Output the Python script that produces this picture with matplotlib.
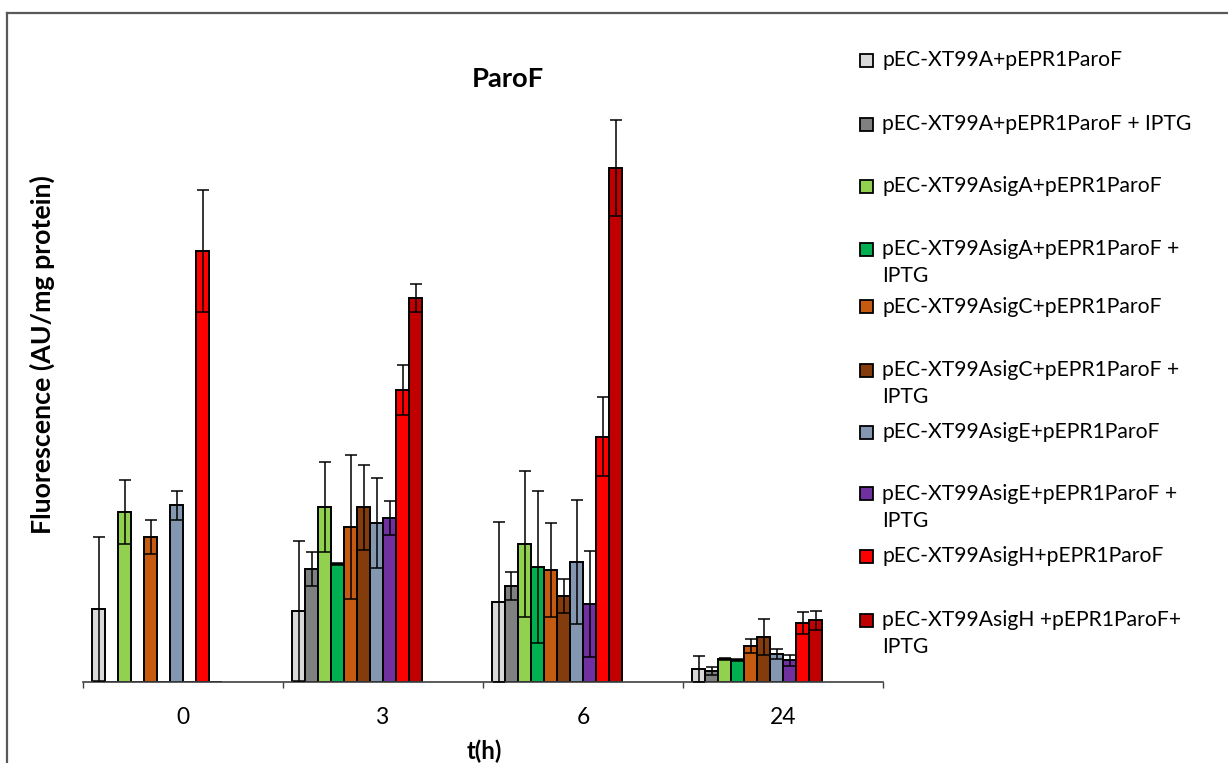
import numpy as np
import matplotlib
matplotlib.use("Agg")
import matplotlib.pyplot as plt
from matplotlib.patches import Rectangle
from matplotlib.lines import Line2D

plt.rcParams['font.family'] = ['Lato', 'DejaVu Sans']

# ---------------- data ----------------
times = ["0", "3", "6", "24"]
labels = [
    "pEC-XT99A+pEPR1ParoF",
    "pEC-XT99A+pEPR1ParoF + IPTG",
    "pEC-XT99AsigA+pEPR1ParoF",
    "pEC-XT99AsigA+pEPR1ParoF +\nIPTG",
    "pEC-XT99AsigC+pEPR1ParoF",
    "pEC-XT99AsigC+pEPR1ParoF +\nIPTG",
    "pEC-XT99AsigE+pEPR1ParoF",
    "pEC-XT99AsigE+pEPR1ParoF +\nIPTG",
    "pEC-XT99AsigH+pEPR1ParoF",
    "pEC-XT99AsigH +pEPR1ParoF+\nIPTG",
]
colors = ["#D9D9D9", "#808080", "#92D050", "#00B050", "#C55A11",
          "#843C0C", "#8497B0", "#7030A0", "#FF0000", "#C00000"]

a_ctrl      = [0.73, 0.71, 0.80, 0.13]
a_ctrl_err  = [0.72, 0.70, 0.80, 0.13]
a_ipt       = [0.00, 1.13, 0.96, 0.11]
a_ipt_err   = [0.00, 0.17, 0.14, 0.036]
sigA        = [1.70, 1.75, 1.38, 0.23]
sigA_err    = [0.32, 0.45, 0.73, 0.01]
sigA_ipt    = [0.00, 1.18, 1.15, 0.22]
sigA_ipt_err= [0.00, 0.01, 0.76, 0.01]
sigC        = [1.45, 1.55, 1.12, 0.36]
sigC_err    = [0.17, 0.72, 0.47, 0.07]
sigC_ipt    = [0.00, 1.75, 0.86, 0.45]
sigC_ipt_err= [0.00, 0.425, 0.17, 0.18]
sigE        = [1.77, 1.59, 1.20, 0.28]
sigE_err    = [0.145, 0.445, 0.62, 0.047]
sigE_ipt    = [0.00, 1.64, 0.78, 0.22]
sigE_ipt_err= [0.00, 0.17, 0.53, 0.055]
sigH        = [4.31, 2.92, 2.45, 0.59]
sigH_err    = [0.61, 0.255, 0.395, 0.11]
sigH_ipt    = [0.00, 3.84, 5.14, 0.62]
sigH_ipt_err= [0.00, 0.14, 0.48, 0.095]

values = [a_ctrl, a_ipt, sigA, sigA_ipt, sigC, sigC_ipt, sigE, sigE_ipt, sigH, sigH_ipt]
errors = [a_ctrl_err, a_ipt_err, sigA_err, sigA_ipt_err, sigC_err, sigC_ipt_err,
          sigE_err, sigE_ipt_err, sigH_err, sigH_ipt_err]

# ---------------- figure ----------------
W, H = 1228, 763
fig = plt.figure(figsize=(W / 100, H / 100), dpi=100)
ax_left, ax_right, ax_bottom, ax_top = 83, 883, 682, 110
ax = fig.add_axes([ax_left / W, 1 - ax_bottom / H, (ax_right - ax_left) / W,
                   (ax_bottom - ax_top) / H])

n_slots = 14
bw = (1 - 2 * 0.045) / n_slots
x = np.arange(len(times))
for j, (vals, errs, c) in enumerate(zip(values, errors, colors)):
    xs = x - 0.5 + 0.045 + bw * (j + 0.5)
    v = np.array(vals)
    e = np.array(errs)
    ax.bar(xs, v, width=bw, color=c, edgecolor="black", linewidth=1.4, zorder=2)
    m = v > 0
    ax.errorbar(xs[m], v[m], yerr=e[m], fmt="none", ecolor="black",
                elinewidth=1.1, capsize=4.3, capthick=1.1, zorder=3)

ax.set_xlim(-0.5, len(times) - 0.5)
ax.set_ylim(0, (ax_bottom - ax_top) / 100)
for s in ["left", "right", "top"]:
    ax.spines[s].set_visible(False)
ax.spines["bottom"].set_color("#404040")
ax.spines["bottom"].set_linewidth(1.2)
ax.set_yticks([])
ax.set_xticks(np.arange(len(times) + 1) - 0.5)
ax.set_xticklabels([])
ax.tick_params(axis="x", which="major", length=4.3, width=1.0, color="#404040", direction="out")
ax.set_xticks(x, minor=True)
ax.set_xticklabels(times, minor=True)
ax.tick_params(axis="x", which="minor", length=0, pad=18)

renderer = fig.canvas.get_renderer()

def fit(t, target, vertical=False):
    bb = t.get_window_extent(renderer)
    w = bb.height if vertical else bb.width
    t.set_fontsize(t.get_fontsize() * target / w)
    return t.get_fontsize()

# legend (manual, Excel-like spacing)
leg_y = [60, 124, 186, 249, 307, 370, 432, 494, 556, 620]
probe = fig.text(0, 0, labels[1], fontsize=14)
leg_fs = fit(probe, 311)
probe.remove()
line_gap = 27
for lab, c, y in zip(labels, colors, leg_y):
    fig.add_artist(Rectangle((860 / W, 1 - (y + 6.5) / H), 13 / W, 13 / H,
                             transform=fig.transFigure, facecolor=c,
                             edgecolor="black", linewidth=1.3))
    for k, line in enumerate(lab.split("\n")):
        fig.text(882 / W, 1 - (y + k * line_gap) / H, line, fontsize=leg_fs,
                 va="center", ha="left", color="black")

for tl in ax.get_xticklabels(minor=True):
    tl.set_fontsize(leg_fs * 1.08)

title = fig.text(508 / W, 1 - 79 / H, "ParoF", fontsize=14, fontweight="bold",
                 ha="center", va="center")
fit(title, 73)
xl = fig.text(484 / W, 1 - 751 / H, "t(h)", fontsize=14, fontweight="bold",
              ha="center", va="center")
fit(xl, 36)
yl = fig.text(42 / W, 1 - 355 / H, "Fluorescence (AU/mg protein)", fontsize=14,
              fontweight="bold", rotation=90, ha="center", va="center")
fit(yl, 362, vertical=True)

# chart-area border (top and left edges visible)
fig.add_artist(Line2D([7 / W, 1], [1 - 13 / H, 1 - 13 / H], transform=fig.transFigure,
                      color="#595959", linewidth=1.6))
fig.add_artist(Line2D([7 / W, 7 / W], [1 - 13 / H, 0], transform=fig.transFigure,
                      color="#595959", linewidth=1.6))

fig.savefig("out.png", dpi=100)
